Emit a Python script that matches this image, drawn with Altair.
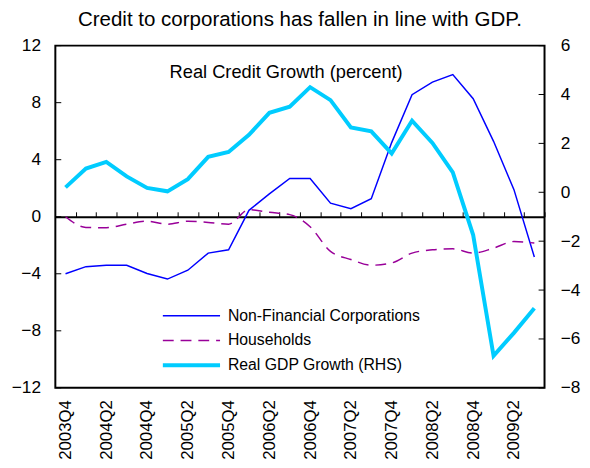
import altair as alt
import pandas as pd

quarters = ["2003Q4",
            "2004Q1", "2004Q2", "2004Q3", "2004Q4",
            "2005Q1", "2005Q2", "2005Q3", "2005Q4",
            "2006Q1", "2006Q2", "2006Q3", "2006Q4",
            "2007Q1", "2007Q2", "2007Q3", "2007Q4",
            "2008Q1", "2008Q2", "2008Q3", "2008Q4",
            "2009Q1", "2009Q2", "2009Q3"]

nfc = [-4.0, -3.5, -3.4, -3.4, -3.98, -4.37, -3.75, -2.55, -2.32,
       0.45, 1.6, 2.68, 2.68, 0.95, 0.57, 1.26, 5.2,
       8.56, 9.44, 9.97, 8.28, 5.29, 1.9, -2.82]

households = [0.0, -0.75, -0.77, -0.52, -0.31, -0.52, -0.31, -0.4, -0.52,
              0.5, 0.31, 0.15, -0.7, -2.43, -3.0, -3.4, -3.24,
              -2.55, -2.32, -2.25, -2.55, -2.2, -1.74, -1.85]

gdp = [0.2, 0.97, 1.24, 0.65, 0.18, 0.04, 0.54, 1.45, 1.65,
       2.35, 3.25, 3.5, 4.3, 3.77, 2.65, 2.49, 1.59,
       2.93, 2.02, 0.81, -1.75, -6.69, -5.75, -4.74]

left_ticks = [-12, -8, -4, 0, 4, 8, 12]
right_ticks = [-8, -6, -4, -2, 0, 2, 4, 6]
label_quarters = quarters[::2]

series_names = ["Non-Financial Corporations", "Households", "Real GDP Growth (RHS)"]
series_colors = ["#0000FF", "#990099", "#00CCFF"]
series_dash = [[1, 0], [11, 7], [1, 0]]
series_width = [1.5, 1.5, 4]

title_text = "Credit to corporations has fallen in line with GDP."
inner_text = "Real Credit Growth (percent)"

W, H = 496, 347
step = W / len(quarters)

df_nfc = pd.DataFrame({"q": quarters, "v": nfc})
df_hh = pd.DataFrame({"q": quarters, "v": households})
df_gdp = pd.DataFrame({"q": quarters, "v": gdp})
df_leg = pd.DataFrame({"series": series_names})

xscale = alt.Scale(domain=quarters, type="point", padding=0.5)
lscale = alt.Scale(domain=[-12, 12], nice=False, zero=False)
rscale = alt.Scale(domain=[-8, 6], nice=False, zero=False)
legscale = alt.Scale(domain=series_names, type="point", padding=0, range=[274, 324])

x_bottom = alt.X("q:O", scale=xscale, sort=quarters,
                 axis=alt.Axis(orient="bottom", values=label_quarters, labelAngle=-90,
                               ticks=False, domain=False, labelFontSize=17, labelPadding=12,
                               labelColor="black", title=None, grid=False))
x_top = alt.X("q:O", scale=xscale, sort=quarters,
              axis=alt.Axis(orient="top", offset=-H / 2, labels=False, title=None,
                            tickSize=5, tickOffset=step / 2, tickColor="black", tickWidth=1,
                            domainColor="black", domainWidth=2, grid=False))

left_axis = alt.Axis(values=left_ticks, orient="left", ticks=False, domain=False,
                     labelFontSize=17.5, labelPadding=15, labelColor="black",
                     title=None, grid=False)
right_axis = alt.Axis(values=right_ticks, orient="right", ticks=False, domain=False,
                      labelFontSize=17.5, labelPadding=16, labelColor="black",
                      title=None, grid=False)
y_left = alt.Y("v:Q", scale=lscale, axis=left_axis)
y_right = alt.Y("v:Q", scale=rscale, axis=right_axis)

nfc_line = alt.Chart(df_nfc).mark_line(
    color=series_colors[0], strokeWidth=series_width[0]).encode(x=x_bottom, y=y_left)
hh_line = alt.Chart(df_hh).mark_line(
    color=series_colors[1], strokeWidth=series_width[1], strokeDash=series_dash[1],
    interpolate="monotone").encode(x=x_bottom, y=y_left)
lt = alt.Chart(pd.DataFrame({"v": left_ticks})).mark_rule(color="black", strokeWidth=1).encode(
    y=alt.Y("v:Q", scale=lscale, axis=left_axis), x=alt.value(0), x2=alt.value(6))
left_group = alt.layer(nfc_line, hh_line, lt)

gdp_line = alt.Chart(df_gdp).mark_line(
    color=series_colors[2], strokeWidth=series_width[2]).encode(x=x_top, y=y_right)
rt = alt.Chart(pd.DataFrame({"v": right_ticks})).mark_rule(color="black", strokeWidth=1).encode(
    y=alt.Y("v:Q", scale=rscale, axis=right_axis), x=alt.value(W - 6), x2=alt.value(W))
right_group = alt.layer(gdp_line, rt)

# legend drawn inside the plot
leg_y = alt.Y("series:N", scale=legscale, axis=None)
leg_layers = []
for name, col, dsh, wid in zip(series_names, series_colors, series_dash, series_width):
    leg_layers.append(
        alt.Chart(df_leg).transform_filter(alt.datum.series == name).mark_rule(
            color=col, strokeWidth=wid, strokeDash=dsh).encode(
            y=leg_y, x=alt.value(109), x2=alt.value(167)))
leg_text = alt.Chart(df_leg).mark_text(
    align="left", baseline="middle", fontSize=16, color="black").encode(
    y=leg_y, x=alt.value(175), text="series:N")
legend_group = alt.layer(*leg_layers, leg_text)

note = alt.Chart(pd.DataFrame({"t": [inner_text]})).mark_text(
    fontSize=18.5, color="black", align="center", baseline="middle").encode(
    text="t:N", x=alt.value(234), y=alt.value(27))

chart = alt.layer(left_group, right_group, legend_group, note).resolve_scale(
    y="independent").resolve_axis(x="independent", y="independent").properties(
    width=W, height=H,
    title=alt.TitleParams(title_text, fontSize=20.8, fontWeight="normal", anchor="middle",
                          color="black", offset=6),
    autosize=alt.AutoSizeParams(type="none"),
    padding={"left": 48, "top": 35, "right": 38, "bottom": 70},
).configure(font="Liberation Sans").configure_view(stroke="black", strokeWidth=2)

chart.save("out.html", embed_options={"renderer": "svg", "actions": False})
